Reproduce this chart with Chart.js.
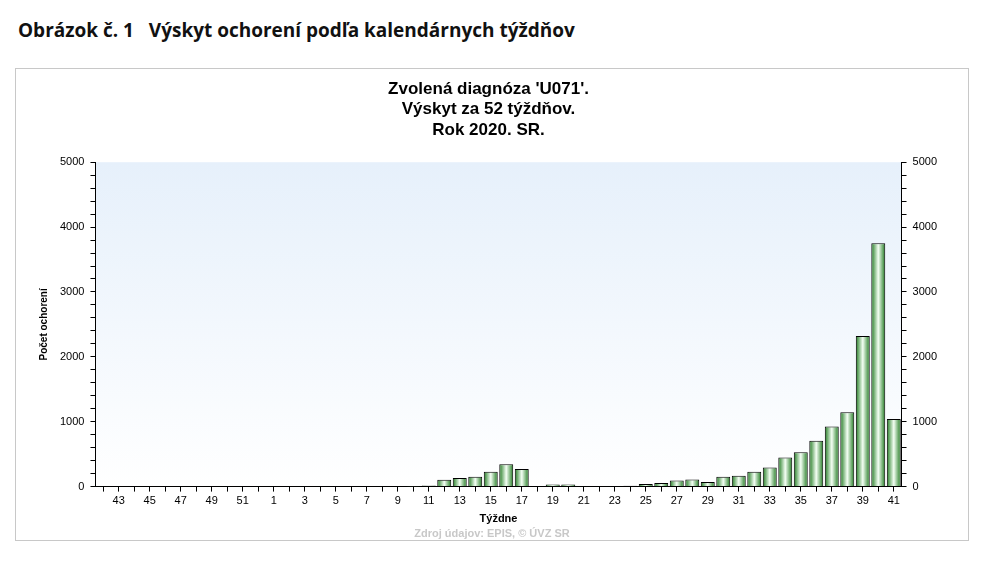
<!DOCTYPE html>
<html><head><meta charset="utf-8">
<script src="https://cdn.jsdelivr.net/npm/chart.js@4.4.0/dist/chart.umd.min.js"></script>
<style>
body{margin:0;background:#fff;width:1000px;height:567px;overflow:hidden;font-family:Arial,"Liberation Sans",sans-serif}
#hdr{position:absolute;left:18px;top:17px;font:bold 19px "Open Sans","Noto Sans",sans-serif;color:#111}
#box{position:absolute;left:15px;top:68px;width:952px;height:471px;border:1px solid #c8c8c8}
#src{position:absolute;left:0;width:100%;bottom:1px;text-align:center;font:bold 11px Arial,"Liberation Sans";color:#c8c8c8}
</style></head><body>
<div id="hdr">Obrázok č. 1&nbsp;&nbsp;&nbsp;Výskyt ochorení podľa kalendárnych týždňov</div>
<div id="box"><canvas id="c" width="952" height="471"></canvas><div id="src">Zdroj údajov: EPIS, © ÚVZ SR</div></div>
<script>
const weeks = [42,43,44,45,46,47,48,49,50,51,52,1,2,3,4,5,6,7,8,9,10,11,12,13,14,15,16,17,18,19,20,21,22,23,24,25,26,27,28,29,30,31,32,33,34,35,36,37,38,39,40,41];
const cases = [0,0,0,0,0,0,0,0,0,0,0,0,0,0,0,0,0,0,0,0,3,18,105,133,150,228,345,272,10,33,33,0,0,0,12,40,55,95,111,72,150,167,228,295,450,528,705,928,1145,2320,3750,1040];
const titleLines = ["Zvolená diagnóza 'U071'.","Výskyt za 52 týždňov.","Rok 2020. SR."];

const barFill = (ctx) => {
  const ch = ctx.chart, x = ch.scales.x;
  if (!x || ctx.dataIndex === undefined) return '#3a9a3a';
  const cx = x.getPixelForValue(ctx.dataIndex), w = x.width / weeks.length * 0.45;
  if (!isFinite(cx) || !isFinite(w) || w <= 0) return '#3a9a3a';
  const g = ch.ctx.createLinearGradient(cx - w, 0, cx + w, 0);
  g.addColorStop(0, '#1f7a1f'); g.addColorStop(0.5, '#f4fff4'); g.addColorStop(1, '#1f7a1f');
  return g;
};
const plotBg = {
  id:'plotBg',
  beforeDraw(ch){ const a = ch.chartArea, c = ch.ctx; if (!a) return;
    const g = c.createLinearGradient(0, a.top, 0, a.bottom);
    g.addColorStop(0, '#e6f0fb'); g.addColorStop(1, '#ffffff');
    c.save(); c.fillStyle = g; c.fillRect(a.left, a.top, a.right - a.left, a.bottom - a.top); c.restore(); }
};
const yTick = v => v % 1000 === 0 ? v : '';
const yAxis = (pos) => ({
  position: pos, min:0, max:5000,
  ticks:{ stepSize:200, autoSkip:false, callback:yTick, color:'#000', font:{size:11, family:'Arial'}, padding:6 },
  grid:{ drawOnChartArea:false, color:'#000', tickLength:5 },
  border:{ color:'#000' },
  title: pos==='left' ? { display:true, text:'Počet ochorení', color:'#000', font:{size:10, weight:'bold', family:'Arial'} } : { display:false }
});
new Chart(document.getElementById('c'), {
  type:'bar',
  data:{ labels: weeks, datasets:[{ data: cases, backgroundColor: barFill, borderColor:'#000', borderWidth:1, categoryPercentage:1, barPercentage:0.9 }] },
  options:{ responsive:false, animation:false,
    layout:{ padding:{ left:18, right:25, top:0, bottom:10 } },
    plugins:{ legend:{display:false}, tooltip:{enabled:false},
      title:{ display:true, text:titleLines, color:'#000', font:{size:17, weight:'bold', family:'Arial'}, padding:{top:10,bottom:22}, lineHeight:1.3 } },
    scales:{
      x:{ ticks:{ autoSkip:false, maxRotation:0, color:'#000', font:{size:11, family:'Arial'}, callback:(v,i)=> i%2===1 ? weeks[i] : '' },
          grid:{ drawOnChartArea:false, color:'#000', tickLength:5, offset:false }, border:{ color:'#000' },
          title:{ display:true, text:'Týždne', color:'#000', font:{size:11, weight:'bold', family:'Arial'}, padding:{top:2} } },
      y: yAxis('left'),
      y2: yAxis('right')
    } },
  plugins:[plotBg]
});
</script></body></html>
